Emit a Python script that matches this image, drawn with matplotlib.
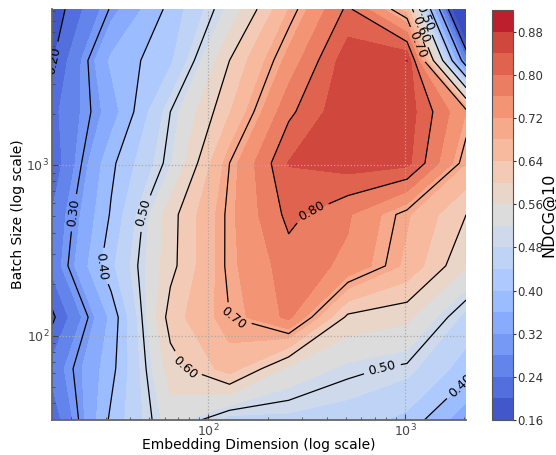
import numpy as np
import matplotlib
matplotlib.use('Agg')
import matplotlib.pyplot as plt
from matplotlib import cm, colors, ticker

# sweep grid
emb_dims = [16, 32, 64, 128, 256, 512, 1024, 2048]
batch_sizes = [32, 64, 128, 256, 512, 1024, 2048, 4096, 8192]

# NDCG@10 per batch size, one value per embedding dim
ndcg_bs32 = [0.21, 0.41, 0.54, 0.463, 0.469, 0.46, 0.429, 0.33]
ndcg_bs64 = [0.253, 0.385, 0.58, 0.66, 0.55, 0.51, 0.492, 0.42]
ndcg_bs128 = [0.19, 0.37, 0.62, 0.70, 0.77, 0.59, 0.571, 0.468]
ndcg_bs256 = [0.252, 0.43, 0.586, 0.71, 0.78, 0.752, 0.67, 0.563]
ndcg_bs512 = [0.242, 0.405, 0.583, 0.71, 0.812, 0.765, 0.685, 0.60]
ndcg_bs1024 = [0.21, 0.39, 0.515, 0.70, 0.842, 0.86, 0.852, 0.68]
ndcg_bs2048 = [0.227, 0.338, 0.50, 0.637, 0.79, 0.874, 0.862, 0.72]
ndcg_bs4096 = [0.195, 0.368, 0.432, 0.60, 0.734, 0.865, 0.8805, 0.25]
ndcg_bs8192 = [0.17, 0.305, 0.413, 0.53, 0.68, 0.81, 0.66, 0.0]

fill_levels = np.linspace(0.16, 0.92, 20)
line_levels = [0.2, 0.3, 0.4, 0.5, 0.6, 0.7, 0.8]

# where the contour labels sit (emb dim, batch size)
label_spots = [(17, 4070), (21, 523), (28, 252), (46.5, 523), (71.5, 62.6),
               (129, 108), (340, 508), (765, 64.5), (1950, 50),
               (1140, 5040), (1190, 6160), (1240, 7260)]

Z = np.array([ndcg_bs32, ndcg_bs64, ndcg_bs128, ndcg_bs256, ndcg_bs512,
              ndcg_bs1024, ndcg_bs2048, ndcg_bs4096, ndcg_bs8192])
# contour in log10 space so the interpolation follows the log axes
lx = np.log10(emb_dims)
ly = np.log10(batch_sizes)
X, Y = np.meshgrid(lx, ly)

fig = plt.figure(figsize=(5.56, 4.55), dpi=100)
ax = fig.add_axes([0.0935, 0.077, 0.745, 0.903])
cax = fig.add_axes([0.885, 0.077, 0.037, 0.901])

cf = ax.contourf(X, Y, Z, levels=fill_levels, cmap='coolwarm', extend='min')
cs = ax.contour(X, Y, Z, levels=line_levels, colors='k', linewidths=0.9)
spots = [(np.log10(a), np.log10(b)) for a, b in label_spots]
ax.clabel(cs, fmt='%.2f', fontsize=9, inline=True, manual=spots)

ax.set_xlim(lx[0], lx[-1])
ax.set_ylim(ly[0], ly[-1])

# log-style ticks
ax.xaxis.set_major_locator(ticker.FixedLocator([2, 3]))
ax.xaxis.set_major_formatter(ticker.FixedFormatter(['$10^{2}$', '$10^{3}$']))
ax.xaxis.set_minor_locator(ticker.FixedLocator(
    np.log10([20, 30, 40, 50, 60, 70, 80, 90, 200, 300, 400, 500, 600, 700, 800, 900, 2000])))
ax.yaxis.set_major_locator(ticker.FixedLocator([2, 3]))
ax.yaxis.set_major_formatter(ticker.FixedFormatter(['$10^{2}$', '$10^{3}$']))
ax.yaxis.set_minor_locator(ticker.FixedLocator(
    np.log10([40, 50, 60, 70, 80, 90, 200, 300, 400, 500, 600, 700, 800, 900,
              2000, 3000, 4000, 5000, 6000, 7000, 8000])))

ax.grid(True, which='major', linestyle=':', color='#aaaaaa', linewidth=0.9)
ax.tick_params(which='both', direction='in', colors='#444444', labelsize=9, pad=2)
ax.tick_params(which='major', length=4)
ax.tick_params(which='minor', length=2.5)
for side in ['top', 'right']:
    ax.spines[side].set_visible(False)
for side in ['left', 'bottom']:
    ax.spines[side].set_color('#666666')
    ax.spines[side].set_linewidth(1.3)
ax.set_xlabel('Embedding Dimension (log scale)', fontsize=10, labelpad=-1)
ax.set_ylabel('Batch Size (log scale)', fontsize=10, labelpad=1)

# colorbar from the same norm, without the 'min' arrow
mids = (fill_levels[:-1] + fill_levels[1:]) / 2
sm = cm.ScalarMappable(norm=colors.Normalize(fill_levels[0], fill_levels[-1]), cmap='coolwarm')
cbar = fig.colorbar(sm, cax=cax, boundaries=fill_levels, values=mids, ticks=fill_levels[::2])
cbar.ax.set_yticklabels(['%.2f' % v for v in fill_levels[::2]])
cbar.ax.tick_params(labelsize=8.5, length=2, pad=1, colors='#333333')
cbar.outline.set_edgecolor('#555555')
cbar.set_label('NDCG@10', fontsize=11.5)
cbar.ax.yaxis.set_label_coords(2.4, 0.5)

plt.savefig('out.png', dpi=100)
